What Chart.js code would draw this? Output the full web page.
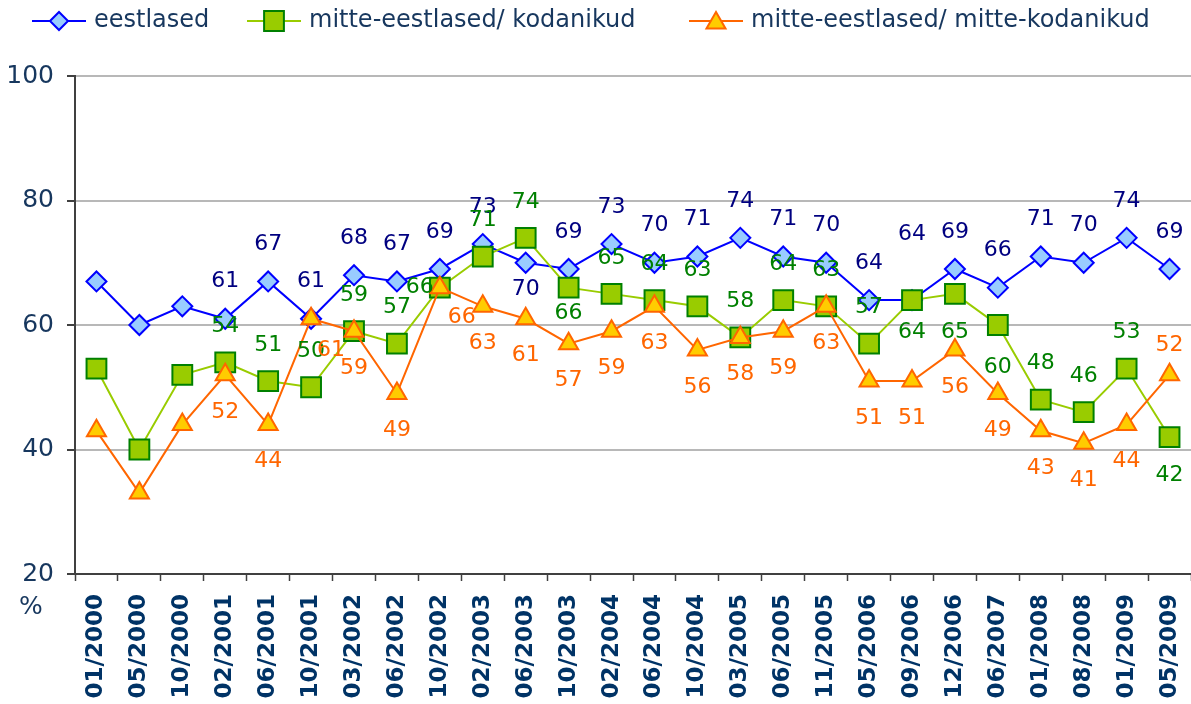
<!DOCTYPE html>
<html>
<head>
<meta charset="utf-8">
<script src="https://cdn.jsdelivr.net/npm/chart.js@4/dist/chart.umd.min.js"></script>
<style>
  body { margin: 0; background: #fff; }
</style>
</head>
<body>
<canvas id="myChart" width="1191" height="704"></canvas>
<script>
const categories = ["01/2000","05/2000","10/2000","02/2001","06/2001","10/2001","03/2002","06/2002","10/2002","02/2003","06/2003","10/2003","02/2004","06/2004","10/2004","03/2005","06/2005","11/2005","05/2006","09/2006","12/2006","06/2007","01/2008","08/2008","01/2009","05/2009"];
const eestlased = [67,60,63,61,67,61,68,67,69,73,70,69,73,70,71,74,71,70,64,64,69,66,71,70,74,69];
const kodanikud = [53,40,52,54,51,50,59,57,66,71,74,66,65,64,63,58,64,63,57,64,65,60,48,46,53,42];
const mitteKodanikud = [43,33,44,52,44,61,59,49,66,63,61,57,59,63,56,58,59,63,51,51,56,49,43,41,44,52];
const yTicks = [20, 40, 60, 80, 100];

const FONT = '"DejaVu Sans", Verdana, sans-serif';

// labels beside the markers, plus legend and the "%" sign
const labelPlugin = {
  id: 'pointLabels',
  afterDatasetsDraw(chart, args, opts) {
    const ctx = chart.ctx;
    ctx.save();
    ctx.font = '22px ' + FONT;
    ctx.textAlign = 'center';
    ctx.textBaseline = 'middle';
    chart.data.datasets.forEach((ds, i) => {
      const meta = chart.getDatasetMeta(i);
      const moves = opts.moves[i] || {};
      meta.data.forEach((pt, j) => {
        let dx = 0, dy = opts.offsets[i];
        if (moves[j]) { dx = moves[j][0]; dy = moves[j][1]; }
        ctx.fillStyle = opts.colors[i];
        ctx.fillText(ds.data[j], pt.x + dx, pt.y + dy);
      });
    });
    ctx.restore();
  },
  afterDraw(chart, args, opts) {
    const ctx = chart.ctx;
    ctx.save();
    ctx.font = '24px ' + FONT;
    ctx.textBaseline = 'middle';
    ctx.textAlign = 'left';
    const y = 21;
    chart.data.datasets.forEach((ds, i) => {
      const tx = opts.legendX[i];
      ctx.strokeStyle = ds.borderColor;
      ctx.lineWidth = 2;
      ctx.beginPath();
      ctx.moveTo(tx - 62, y);
      ctx.lineTo(tx - 8, y);
      ctx.stroke();
      ctx.fillStyle = ds.pointBackgroundColor;
      ctx.strokeStyle = ds.pointBorderColor;
      ctx.lineWidth = 2;
      const r = opts.legendRadius[i];
      Chart.helpers.drawPoint(ctx, {pointStyle: ds.pointStyle, rotation: 0, radius: r, borderWidth: 2},
        tx - 35, y + (ds.pointStyle === 'triangle' ? 2 : 0));
      ctx.fillStyle = '#17375e';
      ctx.fillText(ds.label, tx, y);
    });
    ctx.fillStyle = '#17375e';
    ctx.font = '25px ' + FONT;
    ctx.textAlign = 'center';
    ctx.fillText('%', 31, 607);
    ctx.restore();
  }
};

new Chart(document.getElementById('myChart'), {
  type: 'line',
  data: {
    labels: categories,
    datasets: [{
      label: 'eestlased',
      data: eestlased,
      borderColor: '#0000ff',
      borderWidth: 2,
      pointStyle: 'rectRot',
      pointRadius: 10,
      pointBackgroundColor: '#99ccff',
      pointBorderColor: '#0000ff',
      pointBorderWidth: 2,
      order: 3
    }, {
      label: 'mitte-eestlased/ kodanikud',
      data: kodanikud,
      borderColor: '#99cc00',
      borderWidth: 2,
      pointStyle: 'rect',
      pointRadius: 14,
      pointBackgroundColor: '#99cc00',
      pointBorderColor: '#008000',
      pointBorderWidth: 2,
      order: 2
    }, {
      label: 'mitte-eestlased/ mitte-kodanikud',
      data: mitteKodanikud,
      borderColor: '#ff6600',
      borderWidth: 2,
      pointStyle: 'triangle',
      pointRadius: 11,
      pointBackgroundColor: '#ffcc00',
      pointBorderColor: '#ff6600',
      pointBorderWidth: 2,
      order: 1
    }]
  },
  options: {
    responsive: false,
    animation: false,
    layout: { autoPadding: false, padding: { top: 76, right: 0, left: 0, bottom: 0 } },
    plugins: {
      legend: { display: false },
      tooltip: { enabled: false },
      pointLabels: {
        offsets: [-37, -36, 37],
        colors: ['#000080', '#008000', '#ff6600'],
        moves: [
          {10: [0, 27], 19: [0, -66]},
          {8: [-20, 0], 11: [0, 26], 19: [0, 32], 20: [0, 38], 21: [0, 42], 25: [0, 38]},
          {5: [20, 32], 8: [22, 30], 25: [0, -30]}
        ],
        legendX: [94, 309, 751],
        legendRadius: [9, 14, 11]
      }
    },
    scales: {
      x: {
        offset: true,
        grid: { drawOnChartArea: false, offset: true, tickLength: 7, tickColor: '#404040', tickWidth: 1.5 },
        border: { color: '#404040', width: 2 },
        ticks: {
          autoSkip: false, minRotation: 90, maxRotation: 90,
          padding: 13,
          color: '#003366',
          font: { family: FONT, size: 23, weight: 'bold' }
        },
        afterFit: s => { s.height = 130; s.paddingLeft = 0; s.paddingRight = 0; }
      },
      y: {
        min: 20, max: 100,
        afterBuildTicks: s => { s.ticks = yTicks.map(v => ({ value: v })); },
        grid: {
          color: c => c.tick.value === 20 ? 'rgba(0,0,0,0)' : '#b8b8b8',
          lineWidth: 2,
          tickLength: 8,
          tickColor: '#404040'
        },
        border: { color: '#404040', width: 2 },
        ticks: {
          padding: 13,
          color: '#17375e',
          font: { family: FONT, size: 25 }
        },
        afterFit: s => { s.width = 75; s.paddingTop = 0; s.paddingBottom = 0; }
      }
    }
  },
  plugins: [labelPlugin]
});
</script>
</body>
</html>
